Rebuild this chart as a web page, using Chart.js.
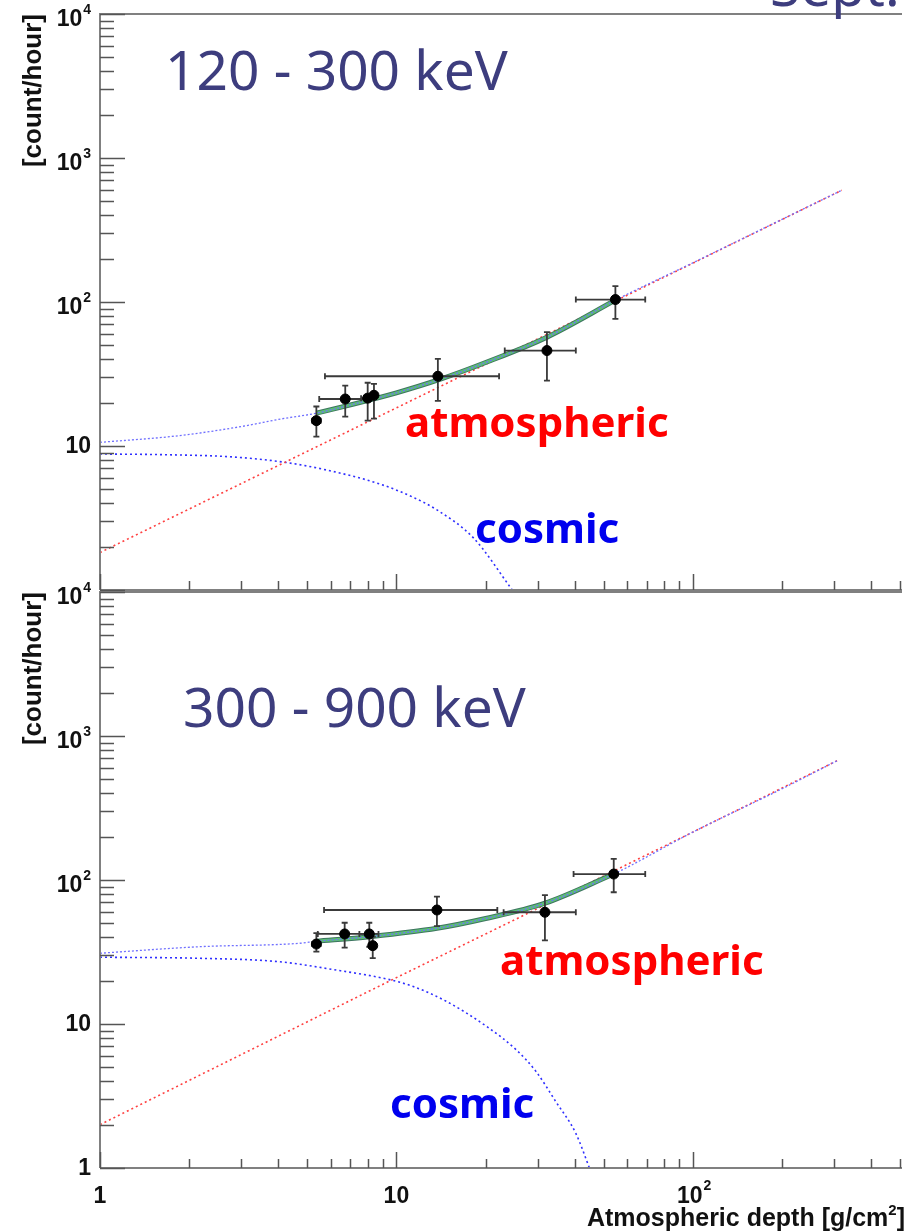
<!DOCTYPE html>
<html><head><meta charset="utf-8">
<script src="https://cdn.jsdelivr.net/npm/chart.js@4.4.1/dist/chart.umd.min.js"></script>
<style>
html,body{margin:0;padding:0;background:#fff;}
#wrap{position:relative;width:906px;height:1232px;overflow:hidden;background:#fff;}
canvas{position:absolute;left:0;}
</style>
</head><body>
<div id="wrap">
<canvas id="c1" width="906" height="600" style="top:0px"></canvas>
<canvas id="c2" width="906" height="652" style="top:580px"></canvas>
</div>
<script>
// ---------- axis ranges & tick labels ----------
const depthRange = [1, 500];
const countRange = [1, 10000];
const yMajorValues = [1, 10, 100, 1000, 10000];
const yMajorText = [['1',''], ['10',''], ['10','2'], ['10','3'], ['10','4']];
const xMajorValues = [1, 10, 100];
const xMajorText = [['1',''], ['10',''], ['10','2']];
const panelTitles = ['120 - 300 keV', '300 - 900 keV'];
const componentNames = ['atmospheric', 'cosmic'];
const yAxisTitle = '[count/hour]';
const xAxisTitle = ['Atmospheric depth [g/cm', '2', ']'];

// ---------- panel A: 120 - 300 keV ----------
const A_ptX   = [5.37, 6.72, 8.0, 8.4, 13.8, 32.2, 54.8];
const A_ptY   = [15.0, 21.2, 21.5, 22.5, 30.5, 46.0, 104];
const A_xLo   = [5.2, 5.49, 7.6, 8.2, 5.74, 23.2, 40.3];
const A_xHi   = [5.55, 8.0, 8.4, 8.6, 22.2, 40.3, 69.1];
const A_yLo   = [11.6, 16.0, 15.0, 15.5, 20.6, 28.4, 76.4];
const A_yHi   = [18.8, 26.3, 27.5, 27.0, 40.3, 61.7, 129];
const A_totX  = [1, 1.85, 3.09, 4.0, 5.37, 7, 10, 14, 20, 32.2, 54.8, 100, 200, 318];
const A_totY  = [10.6, 11.8, 13.8, 15.3, 16.9, 19.3, 23.4, 29, 38, 57, 103, 187, 375, 597];
const A_fitX  = [5.37, 7, 10, 14, 20, 32.2, 54.8];
const A_fitY  = [16.9, 19.3, 23.4, 29, 38, 57, 103];
const A_atmX  = [1, 4.2, 10, 30, 100, 318];
const A_atmY  = [1.82, 7.7, 18.4, 55.5, 186, 597];
const A_cosX  = [1, 1.67, 2.79, 4.21, 6.03, 8.83, 11.4, 13.7, 18.2, 24.6];
const A_cosY  = [8.8, 8.7, 8.4, 7.7, 6.7, 5.43, 4.4, 3.6, 2.3, 1.0];

// ---------- panel B: 300 - 900 keV ----------
const B_ptX   = [5.37, 6.69, 8.10, 8.32, 13.7, 31.7, 54.1];
const B_ptY   = [35.9, 42.2, 42.2, 35.0, 61.9, 59.7, 110];
const B_xLo   = [5.2, 5.43, 7.5, 8.1, 5.7, 23.0, 39.6];
const B_xHi   = [5.55, 8.17, 8.7, 8.5, 21.9, 40.3, 69.1];
const B_yLo   = [31.8, 33.9, 34.4, 28.7, 47.9, 38.1, 82.2];
const B_yHi   = [42.7, 50.5, 50.5, 40.3, 76.6, 78.6, 140];
const B_totX  = [1, 2.16, 4.66, 5.37, 8.1, 13.7, 20, 31.7, 54.1, 100, 200, 310];
const B_totY  = [31.0, 34.4, 36.3, 37.5, 40.4, 46.2, 54, 69, 110, 215, 430, 681];
const B_fitX  = [5.37, 8.1, 13.7, 20, 31.7, 54.1];
const B_fitY  = [37.5, 40.4, 46.2, 54, 69, 110];
const B_atmX  = [1, 9.3, 30, 100, 310];
const B_atmY  = [2.0, 19.5, 63.5, 215, 681];
const B_cosX  = [1, 2.16, 4.0, 6.03, 9.6, 11.4, 14.8, 20.2, 25.4, 29.6, 34.5, 40.3, 44.8];
const B_cosY  = [29.1, 28.6, 27.1, 24.0, 20.2, 18.2, 14.3, 9.58, 6.6, 4.67, 2.89, 1.74, 1.0];

// ---------- helpers ----------
const xy = (xs, ys) => xs.map((v, i) => ({x: v, y: ys[i]}));
const LAB = '"Liberation Sans", Arial, sans-serif';

function drawSupText(ctx, base, sup, xRight, yMid, baseFont, supFont, supDy) {
  ctx.font = supFont; const ws = sup ? ctx.measureText(sup).width : 0;
  ctx.font = baseFont; const wb = ctx.measureText(base).width;
  ctx.textAlign = 'left'; ctx.textBaseline = 'middle';
  ctx.fillText(base, xRight - ws - (sup ? 1 : 0) - wb, yMid + (sup ? 6 : 1));
  if (sup) { ctx.font = supFont; ctx.fillText(sup, xRight - ws, yMid + supDy); }
}

const errorBars = {
  id: 'errorBars',
  beforeDatasetDraw(chart, args) {
    const ds = chart.data.datasets[args.index];
    if (!ds.errXlo) return;
    const {ctx, scales: {x, y}} = chart;
    ctx.save();
    ctx.strokeStyle = '#3a3a3a'; ctx.lineWidth = 1.8;
    ds.data.forEach((p, i) => {
      const px = x.getPixelForValue(p.x), py = y.getPixelForValue(p.y);
      const x0 = x.getPixelForValue(ds.errXlo[i]), x1 = x.getPixelForValue(ds.errXhi[i]);
      const y0 = y.getPixelForValue(ds.errYlo[i]), y1 = y.getPixelForValue(ds.errYhi[i]);
      ctx.beginPath();
      ctx.moveTo(x0, py); ctx.lineTo(x1, py);
      ctx.moveTo(px, y0); ctx.lineTo(px, y1);
      ctx.moveTo(x0, py - 3); ctx.lineTo(x0, py + 3);
      ctx.moveTo(x1, py - 3); ctx.lineTo(x1, py + 3);
      ctx.moveTo(px - 3, y0); ctx.lineTo(px + 3, y0);
      ctx.moveTo(px - 3, y1); ctx.lineTo(px + 3, y1);
      ctx.stroke();
    });
    ctx.restore();
  }
};

const rootFrame = {
  id: 'rootFrame',
  afterDraw(chart, args, o) {
    const {ctx, chartArea: a, scales: {x, y}} = chart;
    ctx.save();
    ctx.strokeStyle = '#808080'; ctx.lineWidth = 2;
    ctx.beginPath();
    ctx.moveTo(a.left, a.bottom); ctx.lineTo(a.left, a.top); ctx.lineTo(a.right + 2, a.top);
    ctx.moveTo(a.left, a.bottom); ctx.lineTo(a.right + 2, a.bottom);
    ctx.stroke();
    ctx.strokeStyle = '#555'; ctx.lineWidth = 1.5;
    ctx.beginPath();
    for (let d = 1; d <= countRange[1]; d *= 10) {
      for (let m = 1; m <= 9; m++) {
        const v = m * d; if (v > countRange[1]) break;
        const py = Math.round(y.getPixelForValue(v)) + 0.5;
        const len = m === 1 ? 25 : 14;
        ctx.moveTo(a.left, py); ctx.lineTo(a.left + len, py);
      }
    }
    for (let d = 1; d <= depthRange[1]; d *= 10) {
      for (let m = 1; m <= 9; m++) {
        const v = m * d; if (v > depthRange[1]) break;
        const px = Math.round(x.getPixelForValue(v)) + 0.5;
        const len = m === 1 ? 16 : 9;
        ctx.moveTo(px, a.bottom); ctx.lineTo(px, a.bottom - len);
      }
    }
    ctx.stroke();
    ctx.fillStyle = '#111';
    yMajorValues.forEach((v, i) => {
      if (o.skipY && o.skipY.includes(v)) return;
      const py = y.getPixelForValue(v);
      drawSupText(ctx, yMajorText[i][0], yMajorText[i][1], 91, py,
        'bold 23px ' + LAB, 'bold 14px ' + LAB, -4);
    });
    if (o.xLabels) {
      xMajorValues.forEach((v, i) => {
        const px = x.getPixelForValue(v);
        const base = xMajorText[i][0], sup = xMajorText[i][1];
        ctx.font = 'bold 23px ' + LAB; const wb = ctx.measureText(base).width;
        const left = px - wb / 2 - (sup ? 3 : 0);
        ctx.textAlign = 'left'; ctx.textBaseline = 'middle';
        ctx.font = 'bold 23px ' + LAB; ctx.fillText(base, left, a.bottom + 29);
        if (sup) { ctx.font = 'bold 14px ' + LAB; ctx.fillText(sup, left + wb + 1, a.bottom + 18); }
      });
      ctx.font = 'bold 25px ' + LAB; const w0 = ctx.measureText(xAxisTitle[0]).width;
      const w2 = ctx.measureText(xAxisTitle[2]).width;
      ctx.font = 'bold 15px ' + LAB; const w1 = ctx.measureText(xAxisTitle[1]).width;
      const right = 905; const start = right - w2 - w1 - w0;
      ctx.textAlign = 'left'; ctx.textBaseline = 'alphabetic';
      ctx.font = 'bold 25px ' + LAB;
      ctx.fillText(xAxisTitle[0], start, o.xTitleY);
      ctx.fillText(xAxisTitle[2], start + w0 + w1, o.xTitleY);
      ctx.font = 'bold 15px ' + LAB;
      ctx.fillText(xAxisTitle[1], start + w0, o.xTitleY - 11);
    }
    ctx.save();
    ctx.translate(34, a.top);
    ctx.rotate(-Math.PI / 2);
    ctx.font = 'bold 26px ' + LAB; ctx.textAlign = 'right'; ctx.textBaseline = 'middle';
    ctx.fillText(yAxisTitle, 0, 0);
    ctx.restore();
    (o.texts || []).forEach(t => {
      ctx.font = t.font; ctx.fillStyle = t.color; ctx.textAlign = 'left'; ctx.textBaseline = 'alphabetic';
      ctx.fillText(t.text, t.x, t.y);
    });
    ctx.restore();
  }
};

function makePanel(canvas, P, padding, frameOpts) {
  return new Chart(canvas, {
    type: 'scatter',
    data: {
      datasets: [
        { label: 'data', data: xy(P.ptX, P.ptY), errXlo: P.xLo, errXhi: P.xHi, errYlo: P.yLo, errYhi: P.yHi,
          pointRadius: 5, pointHoverRadius: 5, backgroundColor: '#000', borderColor: '#000', showLine: false, order: 0 },
        { label: 'total', data: xy(P.totX, P.totY), showLine: true, borderColor: '#7070ff', borderWidth: 1.3,
          borderDash: [2, 2], pointRadius: 0, cubicInterpolationMode: 'monotone', order: 1 },
        { label: 'fit', data: xy(P.fitX, P.fitY), showLine: true, borderColor: '#5cbf72', borderWidth: 3,
          pointRadius: 0, cubicInterpolationMode: 'monotone', order: 2 },
        { label: 'fitEdge', data: xy(P.fitX, P.fitY), showLine: true, borderColor: '#3d7560', borderWidth: 5,
          pointRadius: 0, cubicInterpolationMode: 'monotone', order: 3 },
        { label: 'atmospheric', data: xy(P.atmX, P.atmY), showLine: true, borderColor: '#ff4040', borderWidth: 1.6,
          borderDash: [2, 3], pointRadius: 0, order: 4 },
        { label: 'cosmic', data: xy(P.cosX, P.cosY), showLine: true, borderColor: '#2f2fff', borderWidth: 1.6,
          borderDash: [2, 3], pointRadius: 0, cubicInterpolationMode: 'monotone', order: 5 }
      ]
    },
    options: {
      responsive: false, animation: false, devicePixelRatio: 1,
      layout: { padding: padding },
      events: [],
      scales: {
        x: { type: 'logarithmic', min: depthRange[0], max: depthRange[1], display: false },
        y: { type: 'logarithmic', min: countRange[0], max: countRange[1], display: false }
      },
      plugins: { legend: { display: false }, tooltip: { enabled: false }, rootFrame: frameOpts }
    },
    plugins: [errorBars, rootFrame]
  });
}

const titleFont = '55px "Noto Sans", "Open Sans", sans-serif';
const compFont = 'bold 42px "Noto Sans", "Open Sans", sans-serif';

makePanel(document.getElementById('c1'), {
  ptX: A_ptX, ptY: A_ptY, xLo: A_xLo, xHi: A_xHi, yLo: A_yLo, yHi: A_yHi,
  totX: A_totX, totY: A_totY, fitX: A_fitX, fitY: A_fitY,
  atmX: A_atmX, atmY: A_atmY, cosX: A_cosX, cosY: A_cosY
}, {left: 100, top: 14, right: 0, bottom: 10}, {
  skipY: [1], xLabels: false,
  texts: [
    {text: panelTitles[0], x: 165, y: 90, font: titleFont, color: '#3d3d7e'},
    {text: componentNames[0], x: 405, y: 437, font: compFont, color: '#ff0000'},
    {text: componentNames[1], x: 475, y: 543, font: compFont, color: '#0000ee'},
    {text: 'Sept.', x: 770, y: 6, font: titleFont, color: '#3d3d7e'}
  ]
});

makePanel(document.getElementById('c2'), {
  ptX: B_ptX, ptY: B_ptY, xLo: B_xLo, xHi: B_xHi, yLo: B_yLo, yHi: B_yHi,
  totX: B_totX, totY: B_totY, fitX: B_fitX, fitY: B_fitY,
  atmX: B_atmX, atmY: B_atmY, cosX: B_cosX, cosY: B_cosY
}, {left: 100, top: 12, right: 0, bottom: 64}, {
  skipY: [], xLabels: true, xTitleY: 646,
  texts: [
    {text: panelTitles[1], x: 183, y: 147, font: titleFont, color: '#3d3d7e'},
    {text: componentNames[0], x: 500, y: 395, font: compFont, color: '#ff0000'},
    {text: componentNames[1], x: 390, y: 538, font: compFont, color: '#0000ee'}
  ]
});
</script>
</body></html>
